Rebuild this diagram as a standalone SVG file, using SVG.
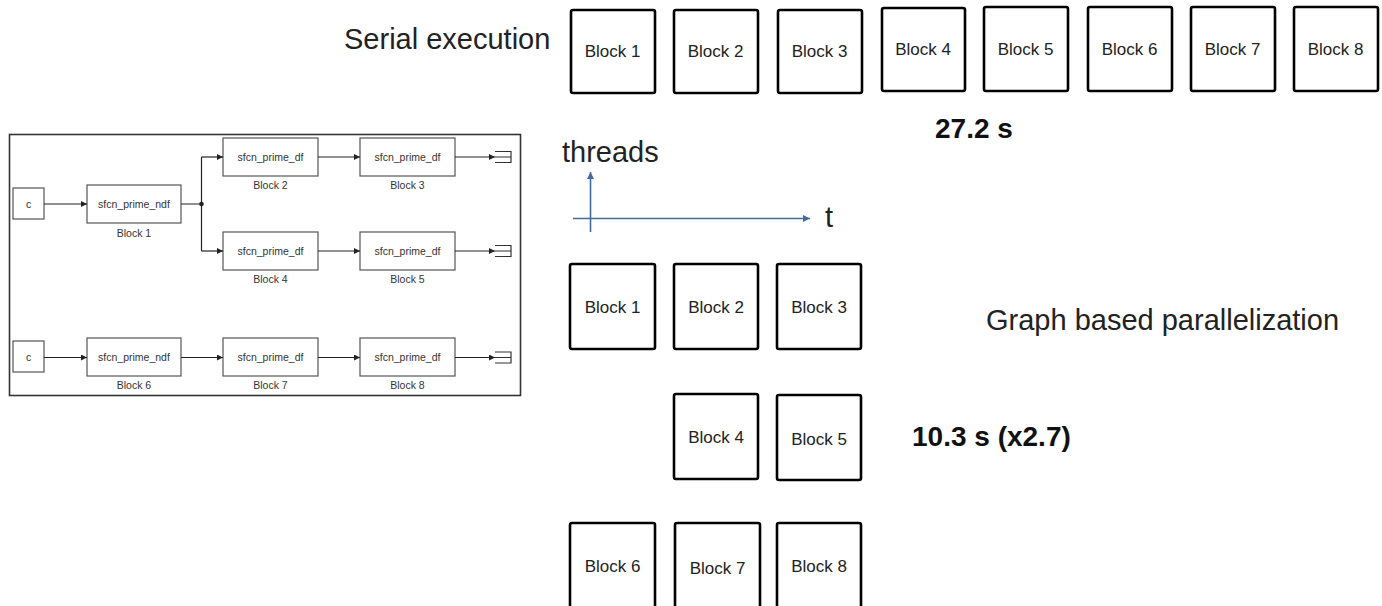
<svg xmlns="http://www.w3.org/2000/svg" width="1382" height="606" viewBox="0 0 1382 606">
<defs>
<style>
.big{fill:#fff;stroke:#000;stroke-width:2.6}
.bt{font-family:"Liberation Sans",Arial,sans-serif;font-size:17px;fill:#222;text-anchor:middle}
.lbl{font-family:"Liberation Sans",Arial,sans-serif;font-size:29px;fill:#222}
.bold{font-family:"Liberation Sans",Arial,sans-serif;font-size:28px;font-weight:bold;fill:#111}
.sb{fill:#fff;stroke:#555;stroke-width:1.2}
.st{font-family:"Liberation Sans",Arial,sans-serif;font-size:10.5px;fill:#333;text-anchor:middle}
.sl{fill:none;stroke:#222;stroke-width:1.2}
.ax{fill:none;stroke:#44699b;stroke-width:1.6}
</style>
<marker id="sa" viewBox="0 0 10 10" refX="10" refY="5" markerWidth="7" markerHeight="6" markerUnits="userSpaceOnUse" orient="auto"><path d="M0,0 L10,5 L0,10 z" fill="#222"/></marker>
<marker id="aa" viewBox="0 0 10 10" refX="10" refY="5" markerWidth="8" markerHeight="7" markerUnits="userSpaceOnUse" orient="auto"><path d="M0,0 L10,5 L0,10 z" fill="#44699b"/></marker>
</defs>
<rect width="1382" height="606" fill="#fff"/>

<text class="lbl" x="344" y="49">Serial execution</text>
<text class="lbl" x="986" y="330">Graph based parallelization</text>
<text class="bold" x="935" y="138">27.2 s</text>
<text class="bold" x="912" y="446">10.3 s (x2.7)</text>

<g id="serial">
<g id="s1"><rect class="big" x="571" y="10" width="84" height="83" rx="2"/><text class="bt" x="612.5" y="57">Block 1</text></g>
<g id="s2"><rect class="big" x="674" y="10" width="84" height="83" rx="2"/><text class="bt" x="715.5" y="57">Block 2</text></g>
<g id="s3"><rect class="big" x="778" y="10" width="84" height="83" rx="2"/><text class="bt" x="819.5" y="57">Block 3</text></g>
<g id="s4"><rect class="big" x="882" y="8" width="83" height="83" rx="2"/><text class="bt" x="923" y="55">Block 4</text></g>
<g id="s5"><rect class="big" x="984" y="7" width="84" height="84" rx="2"/><text class="bt" x="1025.5" y="55">Block 5</text></g>
<g id="s6"><rect class="big" x="1088" y="7" width="84" height="84" rx="2"/><text class="bt" x="1129.5" y="55">Block 6</text></g>
<g id="s7"><rect class="big" x="1191" y="7" width="84" height="84" rx="2"/><text class="bt" x="1232.5" y="55">Block 7</text></g>
<g id="s8"><rect class="big" x="1294" y="7" width="84" height="84" rx="2"/><text class="bt" x="1335.5" y="55">Block 8</text></g>
</g>

<g id="axes">
<line class="ax" x1="590.5" y1="232" x2="590.5" y2="172" marker-end="url(#aa)"/>
<line class="ax" x1="573" y1="218.5" x2="810" y2="218.5" marker-end="url(#aa)"/>
<text class="lbl" x="562" y="162">threads</text>
<text class="lbl" x="825" y="227">t</text>
</g>

<g id="parallel">
<g id="p1"><rect class="big" x="570" y="264" width="85" height="85" rx="2"/><text class="bt" x="612.5" y="313">Block 1</text></g>
<g id="p2"><rect class="big" x="674" y="264" width="84" height="85" rx="2"/><text class="bt" x="716" y="313">Block 2</text></g>
<g id="p3"><rect class="big" x="777" y="264" width="84" height="85" rx="2"/><text class="bt" x="819" y="313">Block 3</text></g>
<g id="p4"><rect class="big" x="674" y="394" width="84" height="85" rx="2"/><text class="bt" x="716" y="443">Block 4</text></g>
<g id="p5"><rect class="big" x="777" y="395" width="84" height="85" rx="2"/><text class="bt" x="819" y="444.5">Block 5</text></g>
<g id="p6"><rect class="big" x="570" y="523" width="85" height="90" rx="2"/><text class="bt" x="612.5" y="572">Block 6</text></g>
<g id="p7"><rect class="big" x="675" y="523" width="85" height="90" rx="2"/><text class="bt" x="717.5" y="573.5">Block 7</text></g>
<g id="p8"><rect class="big" x="777" y="523" width="84" height="90" rx="2"/><text class="bt" x="819" y="572">Block 8</text></g>
</g>

<g id="simulink">
<rect x="9.5" y="134.5" width="511" height="261" fill="#fff" stroke="#333" stroke-width="1.6"/>
<g id="c1"><rect class="sb" x="13" y="188" width="31" height="31"/><text class="st" x="28.5" y="207.5">c</text></g>
<g id="c2"><rect class="sb" x="13" y="341" width="31" height="31"/><text class="st" x="28.5" y="360.5">c</text></g>
<g id="k1"><rect class="sb" x="87" y="185" width="94" height="38"/><text class="st" x="134" y="207.5">sfcn_prime_ndf</text><text class="st" x="134" y="237">Block 1</text></g>
<g id="k2"><rect class="sb" x="223" y="138" width="95" height="38"/><text class="st" x="270.5" y="160.5">sfcn_prime_df</text><text class="st" x="270.5" y="189">Block 2</text></g>
<g id="k3"><rect class="sb" x="360" y="138" width="95" height="38"/><text class="st" x="407.5" y="160.5">sfcn_prime_df</text><text class="st" x="407.5" y="189">Block 3</text></g>
<g id="k4"><rect class="sb" x="223" y="232" width="95" height="38"/><text class="st" x="270.5" y="254.5">sfcn_prime_df</text><text class="st" x="270.5" y="283">Block 4</text></g>
<g id="k5"><rect class="sb" x="360" y="232" width="95" height="38"/><text class="st" x="407.5" y="254.5">sfcn_prime_df</text><text class="st" x="407.5" y="283">Block 5</text></g>
<g id="k6"><rect class="sb" x="87" y="338" width="94" height="38"/><text class="st" x="134" y="360.5">sfcn_prime_ndf</text><text class="st" x="134" y="388.5">Block 6</text></g>
<g id="k7"><rect class="sb" x="223" y="338" width="95" height="38"/><text class="st" x="270.5" y="360.5">sfcn_prime_df</text><text class="st" x="270.5" y="388.5">Block 7</text></g>
<g id="k8"><rect class="sb" x="360" y="338" width="95" height="38"/><text class="st" x="407.5" y="360.5">sfcn_prime_df</text><text class="st" x="407.5" y="388.5">Block 8</text></g>
<g id="sinks" fill="none" stroke="#333" stroke-width="1.2">
<path d="M495,151.5 H511 V162.5 H495 M495,157 H511"/>
<path d="M495,245.5 H511 V256.5 H495 M495,251 H511"/>
<path d="M495,352 H511 V363 H495 M495,357.5 H511"/>
</g>
<g id="connectors">
<line class="sl" x1="44" y1="204" x2="87" y2="204" marker-end="url(#sa)"/>
<path class="sl" d="M181,204 H201.5 M201.5,157 V251"/>
<circle cx="201.5" cy="204" r="2.3" fill="#222"/>
<line class="sl" x1="201.5" y1="157" x2="223" y2="157" marker-end="url(#sa)"/>
<line class="sl" x1="201.5" y1="251" x2="223" y2="251" marker-end="url(#sa)"/>
<line class="sl" x1="318" y1="157" x2="360" y2="157" marker-end="url(#sa)"/>
<line class="sl" x1="318" y1="251" x2="360" y2="251" marker-end="url(#sa)"/>
<line class="sl" x1="455" y1="157" x2="495" y2="157" marker-end="url(#sa)"/>
<line class="sl" x1="455" y1="251" x2="495" y2="251" marker-end="url(#sa)"/>
<line class="sl" x1="44" y1="357.5" x2="87" y2="357.5" marker-end="url(#sa)"/>
<line class="sl" x1="181" y1="357.5" x2="223" y2="357.5" marker-end="url(#sa)"/>
<line class="sl" x1="318" y1="357.5" x2="360" y2="357.5" marker-end="url(#sa)"/>
<line class="sl" x1="455" y1="357.5" x2="495" y2="357.5" marker-end="url(#sa)"/>
</g>
</g>
</svg>
